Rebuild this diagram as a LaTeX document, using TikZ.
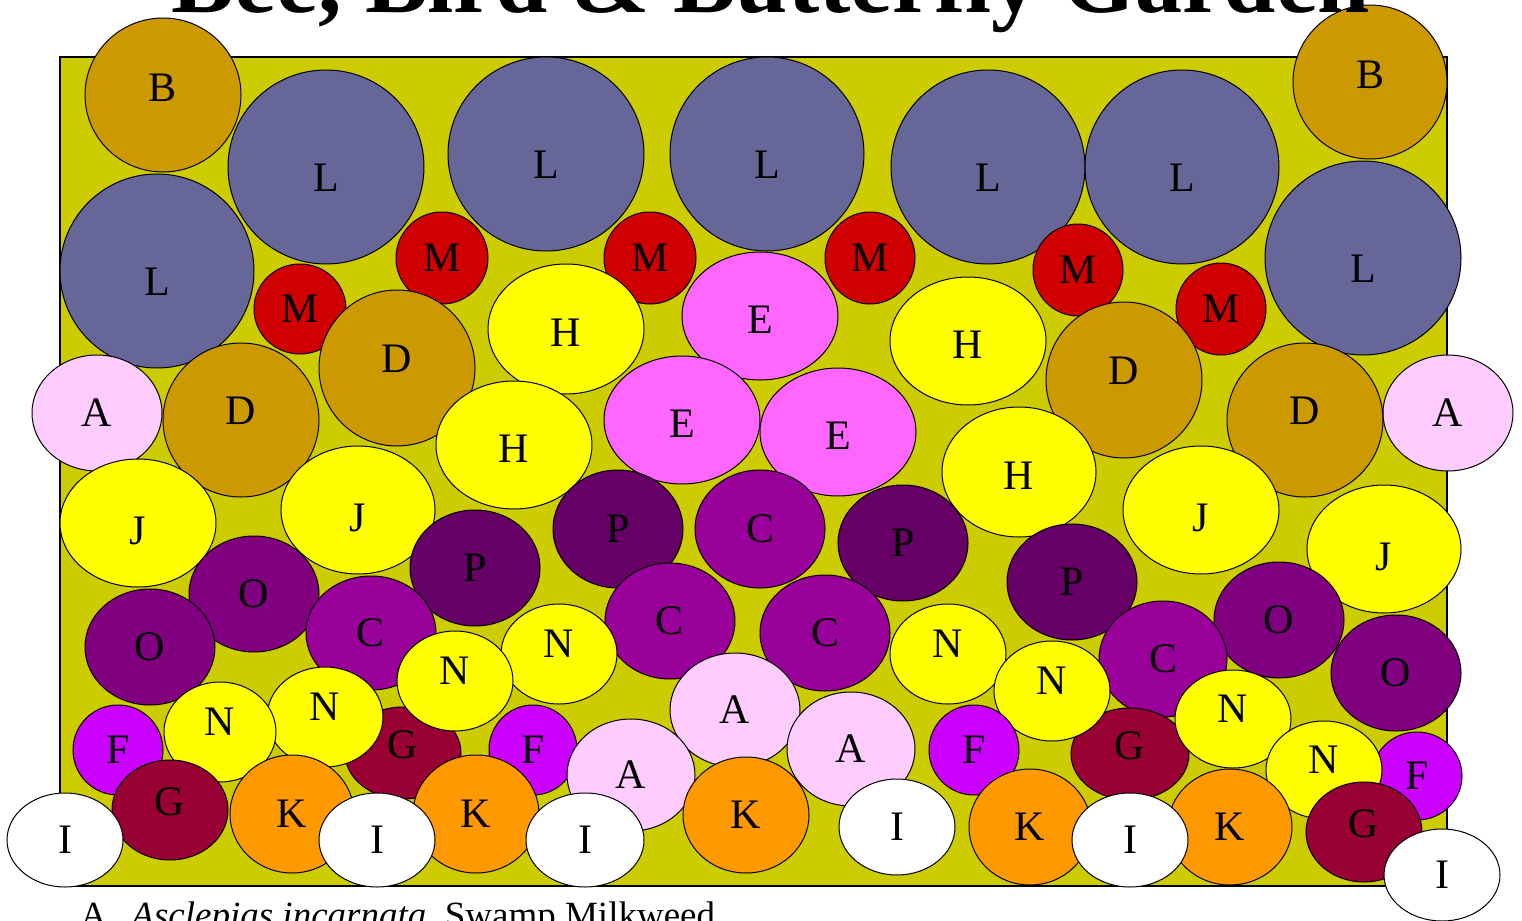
\documentclass[tikz,border=0pt]{standalone}
\usepackage{fontspec}
\setmainfont{Liberation Serif}
\usepackage{tikz}
\usetikzlibrary{shapes.geometric}
\definecolor{bedgreen}{HTML}{CCCC00}
\definecolor{slate}{HTML}{666699}
\definecolor{ochre}{HTML}{CC9900}
\definecolor{redM}{HTML}{D00000}
\definecolor{pinkE}{HTML}{FF66FF}
\definecolor{pinkA}{HTML}{FFCCFF}
\definecolor{plumP}{HTML}{660066}
\definecolor{purpleC}{HTML}{990099}
\definecolor{purpleO}{HTML}{800080}
\definecolor{violetF}{HTML}{CC00FF}
\definecolor{wineG}{HTML}{990033}
\definecolor{orangeK}{HTML}{FF9900}
\definecolor{sunH}{HTML}{FFFF00}
\tikzset{
  plant/.style={ellipse, draw, line width=0.5pt, inner sep=0pt, outer sep=0pt,
    font=\fontsize{21}{21}\selectfont, text height=13.9pt, text depth=0pt},
  sz/.style 2 args={minimum width=#1pt, minimum height=#2pt},
  down/.style={text height=13.9pt+2*#1, text depth=0pt},
  up/.style={text height=13.9pt, text depth=2*#1},
  bedA/.style={plant, fill=pinkA},
  bedB/.style={plant, fill=ochre, up=3.5pt},
  bedC/.style={plant, fill=purpleC},
  bedD/.style={plant, fill=ochre, up=4.5pt},
  bedE/.style={plant, fill=pinkE, down=2pt},
  bedF/.style={plant, fill=violetF},
  bedG/.style={plant, fill=wineG, up=4pt},
  bedH/.style={plant, fill=sunH, down=2pt},
  bedI/.style={plant, fill=white},
  bedJ/.style={plant, fill=sunH, down=4pt},
  bedK/.style={plant, fill=orangeK},
  bedL/.style={plant, fill=slate, down=5.5pt},
  bedM/.style={plant, fill=redM},
  bedN/.style={plant, fill=sunH, up=5pt},
  bedO/.style={plant, fill=purpleO},
  bedP/.style={plant, fill=plumP}
}
\begin{document}
\begin{tikzpicture}[x=0.5pt, y=-0.5pt]
  \useasboundingbox (0,0) rectangle (1522,921);
  \clip (0,0) rectangle (1522,921);
  \fill[white] (0,0) rectangle (1522,921);
  % garden bed
  \node[draw, line width=0.8pt, fill=bedgreen, inner sep=0pt, minimum width=693.5pt, minimum height=414.5pt] (bed) at (753.5,471.5) {};
  % back row
  \node[bedB, sz={78}{77}] (b1) at (163,95) {B};
  \node[bedB, sz={77}{77}] (b2) at (1370,82) {B};
  \node[bedL, sz={98}{97}] (l1) at (326,167) {L};
  \node[bedL, sz={98}{97}] (l2) at (546,154) {L};
  \node[bedL, sz={97}{97}] (l3) at (767,154) {L};
  \node[bedL, sz={97}{97}] (l4) at (988,167) {L};
  \node[bedL, sz={97}{97}] (l5) at (1182,167) {L};
  \node[bedL, sz={97}{97}] (l6) at (157,271) {L};
  \node[bedL, sz={98}{97}] (l7) at (1363,258) {L};
  \node[bedM, sz={46}{45}] (m1) at (300,309) {M};
  \node[bedM, sz={46}{46}] (m2) at (442,258) {M};
  \node[bedM, sz={46}{46}] (m3) at (650,258) {M};
  \node[bedM, sz={45}{46}] (m4) at (870,258) {M};
  \node[bedM, sz={45}{46}] (m5) at (1078,270) {M};
  \node[bedM, sz={45}{46}] (m6) at (1221,309) {M};
  \node[bedE, sz={78}{64}] (e1) at (760,316) {E};
  \node[bedH, sz={78}{65}] (h1) at (566,329) {H};
  \node[bedH, sz={78}{64}] (h2) at (968,341) {H};
  \node[bedD, sz={78}{78}] (d1) at (397,368) {D};
  \node[bedD, sz={78}{78}] (d2) at (1124,380) {D};
  \node[bedA, sz={65}{58}] (a1) at (97,413) {A};
  \node[bedA, sz={65}{58}] (a2) at (1448,413) {A};
  \node[bedD, sz={78}{77}] (d3) at (241,420) {D};
  \node[bedD, sz={78}{77}] (d4) at (1305,420) {D};
  \node[bedE, sz={78}{64}] (e2) at (682,420) {E};
  \node[bedE, sz={78}{64}] (e3) at (838,432) {E};
  \node[bedH, sz={78}{64}] (h3) at (514,445) {H};
  \node[bedH, sz={77}{65}] (h4) at (1019,472) {H};
  % middle rows
  \node[bedJ, sz={78}{64}] (j1) at (138,523) {J};
  \node[bedJ, sz={77}{64}] (j2) at (358,510) {J};
  \node[bedJ, sz={78}{64}] (j3) at (1201,510) {J};
  \node[bedJ, sz={77}{64}] (j4) at (1384,549) {J};
  \node[bedP, sz={65}{59}] (p1) at (618,529) {P};
  \node[bedC, sz={65}{59}] (c1) at (760,529) {C};
  \node[bedP, sz={65}{58}] (p2) at (903,543) {P};
  \node[bedP, sz={65}{58}] (p3) at (475,568) {P};
  \node[bedP, sz={65}{58}] (p4) at (1072,582) {P};
  \node[bedO, sz={65}{58}] (o1) at (254,594) {O};
  \node[bedO, sz={65}{58}] (o2) at (1279,620) {O};
  \node[bedC, sz={65}{58}] (c2) at (670,621) {C};
  \node[bedC, sz={65}{58}] (c3) at (825,633) {C};
  \node[bedC, sz={65}{57}] (c4) at (371,633) {C};
  \node[bedO, sz={65}{58}] (o3) at (150,647) {O};
  \node[bedC, sz={64}{58}] (c5) at (1163,659) {C};
  \node[bedO, sz={65}{58}] (o4) at (1396,673) {O};
  \node[bedG, sz={58}{46}] (g1) at (403,753) {G};
  \node[bedG, sz={59}{46}] (g2) at (1130,754) {G};
  \node[bedN, sz={58}{50}] (n1) at (559,654) {N};
  \node[bedN, sz={58}{50}] (n2) at (948,654) {N};
  \node[bedN, sz={58}{50}] (n3) at (455,681) {N};
  \node[bedN, sz={58}{50}] (n4) at (1052,691) {N};
  \node[bedA, sz={65}{57}] (a3) at (735,710) {A};
  \node[bedN, sz={58}{50}] (n5) at (325,717) {N};
  \node[bedN, sz={58}{49}] (n6) at (1233,719) {N};
  \node[bedN, sz={56}{50}] (n7) at (220,732) {N};
  % front rows
  \node[bedF, sz={45}{45}] (f1) at (118,750) {F};
  \node[bedF, sz={44}{45}] (f2) at (533,750) {F};
  \node[bedF, sz={45}{45}] (f3) at (974,750) {F};
  \node[bedF, sz={45}{44}] (f4) at (1417,776) {F};
  \node[bedA, sz={64}{56}] (a4) at (631,775) {A};
  \node[bedN, sz={58}{49}] (n8) at (1324,770) {N};
  \node[bedG, sz={58}{50}] (g3) at (170,810) {G};
  \node[bedG, sz={58}{50}] (g4) at (1364,832) {G};
  \node[bedK, sz={62}{59}] (k1) at (292,814) {K};
  \node[bedK, sz={63}{59}] (k2) at (476,814) {K};
  \node[bedK, sz={63}{58}] (k3) at (746,815) {K};
  \node[bedK, sz={61}{58}] (k4) at (1030,827) {K};
  \node[bedK, sz={62}{58}] (k5) at (1230,827) {K};
  \node[bedA, sz={64}{57}] (a5) at (851,749) {A};
  \node[bedI, sz={58}{47}] (i1) at (65,840) {I};
  \node[bedI, sz={58}{47}] (i2) at (377,840) {I};
  \node[bedI, sz={59}{47}] (i3) at (585,840) {I};
  \node[bedI, sz={58}{48}] (i4) at (897,827) {I};
  \node[bedI, sz={58}{47}] (i5) at (1130,840) {I};
  \node[bedI, sz={58}{46}] (i6) at (1442,875) {I};
  % title and key
  \node[anchor=base, inner sep=0pt, font=\fontsize{47}{50}\selectfont\bfseries] (title) at (771,12) {Bee, Bird \& Butterfly Garden};
  \node[anchor=base west, inner sep=0pt, font=\fontsize{18.5}{20}\selectfont] (keya) at (80,927) {A.};
  \node[anchor=base west, inner sep=0pt, font=\fontsize{18.5}{20}\selectfont] (keyname) at (131,927) {\textit{Asclepias incarnata}, Swamp Milkweed};
\end{tikzpicture}
\end{document}
